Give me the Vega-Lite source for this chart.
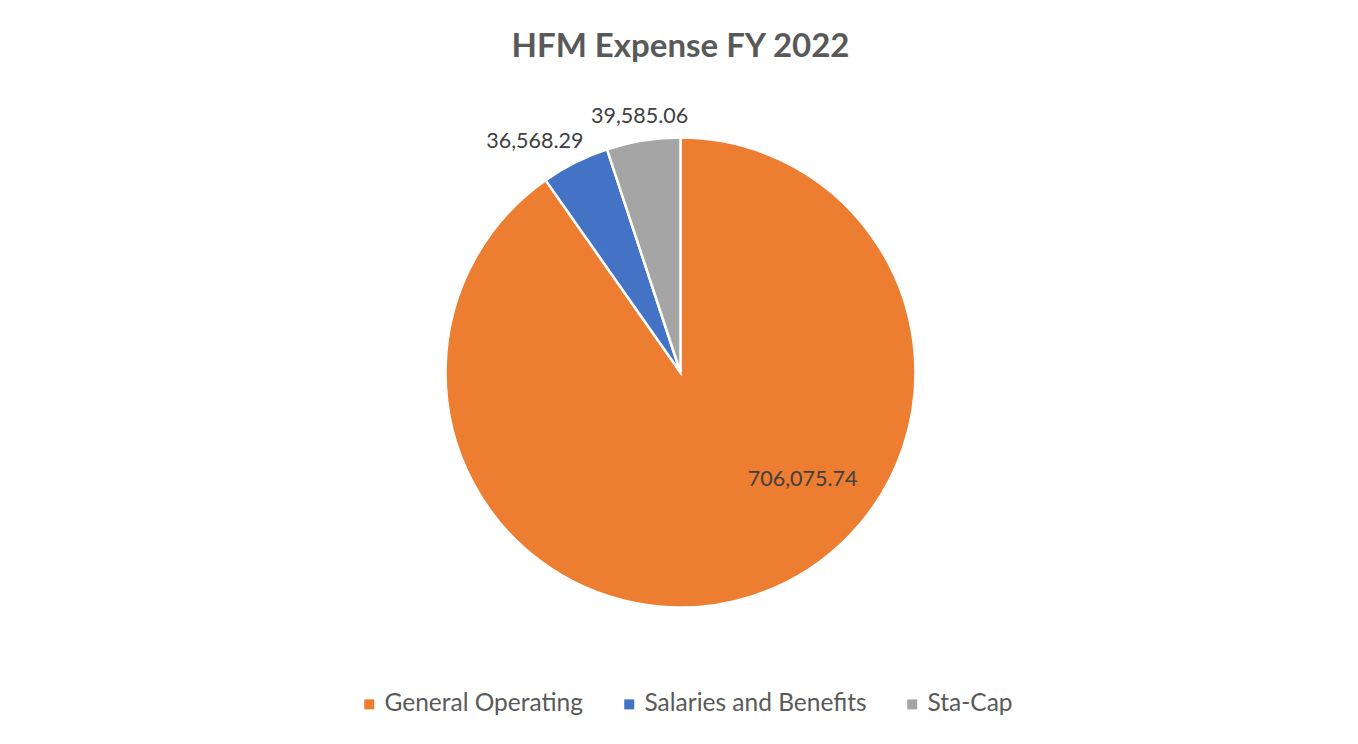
{
  "$schema": "https://vega.github.io/schema/vega-lite/v6.json",
  "autosize": {"type": "none"},
  "padding": {"left": 5, "top": 2, "right": 2, "bottom": 1},
  "width": 1351,
  "height": 741,
  "background": "#ffffff",
  "title": {
    "text": "HFM Expense FY 2022",
    "font": "Lato",
    "fontSize": 33,
    "fontWeight": "bold",
    "color": "#595959",
    "anchor": "middle",
    "frame": "group",
    "baseline": "alphabetic",
    "offset": -88
  },
  "data": {
    "values": [
      {"category": "General Operating", "value": 706075.74},
      {"category": "Salaries and Benefits", "value": 36568.29},
      {"category": "Sta-Cap", "value": 39585.06}
    ]
  },
  "encoding": {
    "theta": {"field": "value", "type": "quantitative", "stack": true},
    "order": {"field": "category", "sort": "ascending"}
  },
  "layer": [
    {
      "mark": {"type": "arc", "radius": 235, "stroke": "#ffffff", "strokeWidth": 2.5},
      "encoding": {
        "color": {
          "field": "category",
          "type": "nominal",
          "scale": {
            "domain": ["General Operating", "Salaries and Benefits", "Sta-Cap"],
            "range": ["#ED7D31", "#4472C4", "#A5A5A5"]
          },
          "legend": {
            "title": null,
            "orient": "none",
            "legendX": 352,
            "legendY": 690,
            "direction": "horizontal",
            "symbolType": "square",
            "symbolSize": 100,
            "symbolStrokeWidth": 0,
            "labelFont": "Lato",
            "labelFontSize": 24.5,
            "labelColor": "#595959",
            "labelOffset": 3,
            "labelLimit": 0,
            "columnPadding": 33,
            "padding": 0
          }
        }
      }
    },
    {
      "mark": {"type": "text", "radius": 150, "dx": 77, "dy": -36, "font": "Lato", "fontSize": 21.5, "color": "#404040", "align": "center", "baseline": "middle"},
      "encoding": {
        "text": {
          "condition": {"test": "datum.category === 'General Operating'", "field": "value", "type": "quantitative", "format": ",.2f"},
          "value": ""
        }
      }
    },
    {
      "mark": {"type": "text", "radius": 258, "dx": -30, "dy": 0, "font": "Lato", "fontSize": 21.5, "color": "#404040", "align": "center", "baseline": "middle"},
      "encoding": {
        "text": {
          "condition": {"test": "datum.category === 'Salaries and Benefits'", "field": "value", "type": "quantitative", "format": ",.2f"},
          "value": ""
        }
      }
    },
    {
      "mark": {"type": "text", "radius": 258, "dx": 0, "dy": -1, "font": "Lato", "fontSize": 21.5, "color": "#404040", "align": "center", "baseline": "middle"},
      "encoding": {
        "text": {
          "condition": {"test": "datum.category === 'Sta-Cap'", "field": "value", "type": "quantitative", "format": ",.2f"},
          "value": ""
        }
      }
    }
  ],
  "config": {
    "view": {"stroke": "#D9D9D9", "strokeWidth": 1}
  }
}
